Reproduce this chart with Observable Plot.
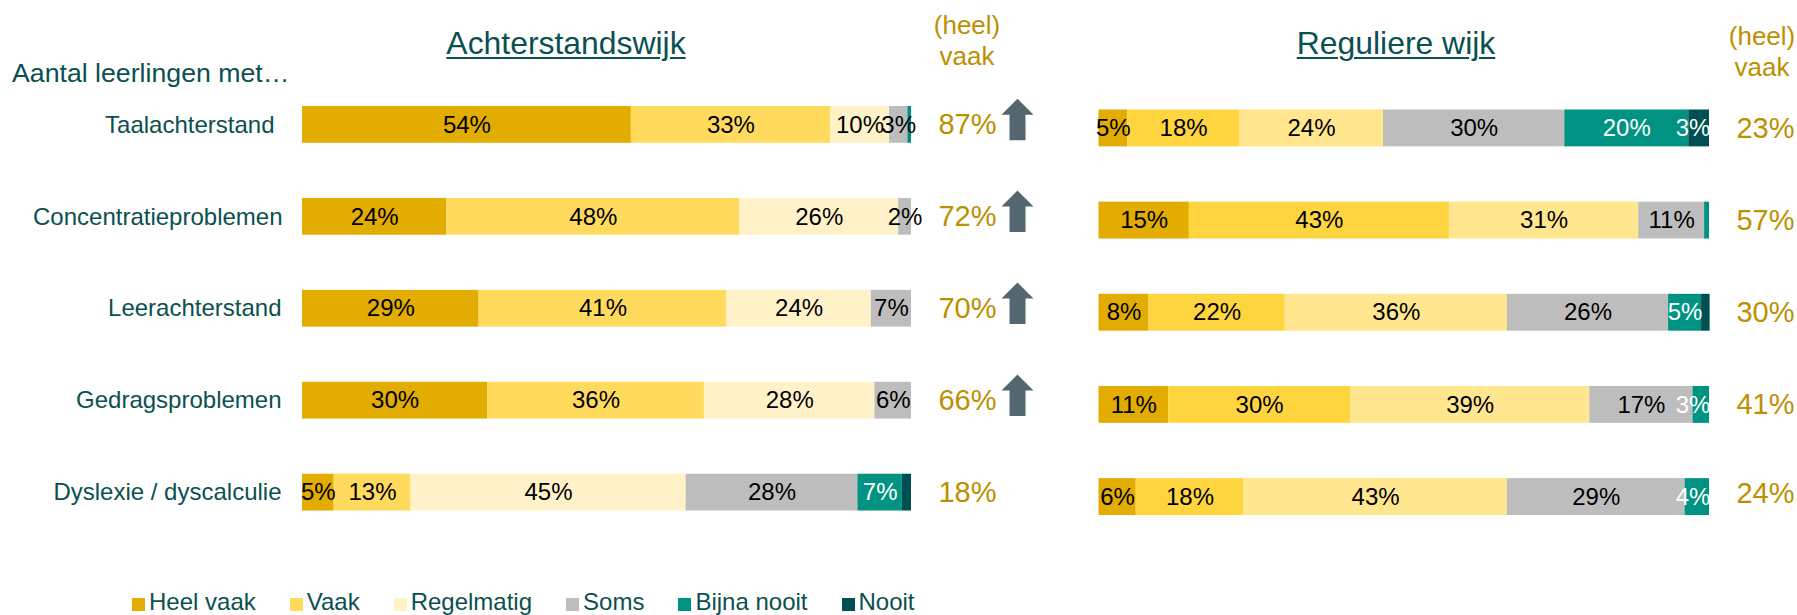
<!DOCTYPE html>
<html lang="nl">
<head>
<meta charset="utf-8">
<script src="https://cdn.jsdelivr.net/npm/d3@7"></script>
<script src="https://cdn.jsdelivr.net/npm/@observablehq/plot@0.6"></script>
<style>
  html, body { margin: 0; padding: 0; background: #fff; overflow: hidden; }
  #stage { position: relative; width: 1797px; height: 615px; overflow: hidden; font-family: "Liberation Sans", Arial, sans-serif; color: #0B5050; }
  #stage svg { position: absolute; top: 0; background: transparent; }
  .h { position: absolute; white-space: nowrap; line-height: 1; }
  .title { font-size: 31.9px; text-decoration: underline; text-decoration-thickness: 2px; text-underline-offset: 3px; transform: translateX(-50%); }
  .gold { color: #BC9000; font-size: 26px; transform: translateX(-50%); text-align: center; line-height: 31px; }
  #legend { position: absolute; left: 132px; top: 588px; display: flex; gap: 34px; font-size: 24px; line-height: 27px; white-space: nowrap; }
  #legend span.item { display: flex; align-items: center; }
  #legend i { display: block; width: 13px; height: 13px; margin-right: 4px; margin-top: 5.4px; }
</style>
</head>
<body>
<div id="stage">
  <div class="h" style="left:12px;top:60px;font-size:26.7px">Aantal leerlingen met…</div>
  <div class="h title" style="left:566px;top:28px">Achterstandswijk</div>
  <div class="h title" style="left:1396px;top:28px">Reguliere wijk</div>
  <div class="h gold" style="left:967px;top:10px">(heel)<br>vaak</div>
  <div class="h gold" style="left:1762px;top:21px">(heel)<br>vaak</div>
  <div id="legend"></div>
</div>
<script>
const categories = ["Taalachterstand", "Concentratieproblemen", "Leerachterstand", "Gedragsproblemen", "Dyslexie / dyscalculie"];
const levels = ["Heel vaak", "Vaak", "Regelmatig", "Soms", "Bijna nooit", "Nooit"];

// Achterstandswijk
const achterHeelVaak   = [54.0, 23.7, 29.0, 30.4, 5.2];
const achterVaak       = [32.7, 48.1, 40.7, 35.6, 12.6];
const achterRegelmatig = [9.7, 26.1, 23.7, 28.0, 45.2];
const achterSoms       = [3.0, 2.1, 6.6, 6.0, 28.2];
const achterBijnaNooit = [0.6, 0, 0, 0, 7.3];
const achterNooit      = [0, 0, 0, 0, 1.5];
const achterTotaal     = ["87%", "72%", "70%", "66%", "18%"];
const achterPijl       = ["Taalachterstand", "Concentratieproblemen", "Leerachterstand", "Gedragsproblemen"];

// Reguliere wijk
const regulierHeelVaak   = [4.7, 14.8, 8.2, 11.4, 6.1];
const regulierVaak       = [18.3, 42.6, 22.3, 29.8, 17.6];
const regulierRegelmatig = [23.6, 31.0, 36.4, 39.2, 43.2];
const regulierSoms       = [29.7, 10.8, 26.4, 16.9, 29.1];
const regulierBijnaNooit = [20.3, 0.8, 5.4, 2.7, 4.0];
const regulierNooit      = [3.4, 0, 1.4, 0, 0];
const regulierTotaal     = ["23%", "57%", "30%", "41%", "24%"];

const paletteAchter   = ["#E2AC00", "#FFDA5C", "#FFF2C8", "#BDBDBD", "#009383", "#004F52"];
const paletteRegulier = ["#E2AC00", "#FFD53F", "#FFE68F", "#BDBDBD", "#009383", "#004F52"];

const font = "'Liberation Sans', Arial, sans-serif";
const TEAL = "#0B5050", GOLD = "#BC9000", ARROW = "#54666F";

function toRows(series, maxMid) {
  const rows = [];
  categories.forEach((cat, i) => {
    let sum = 0;
    series.forEach((vals, s) => {
      const value = vals[i];
      if (value > 0) {
        rows.push({cat, level: levels[s], value, mid: Math.min(sum + value / 2, maxMid), pct: Math.round(value)});
        sum += value;
      }
    });
  });
  return rows;
}

function panel({rows, palette, range, yRange, left, width, totals, totalDx, lastDy}) {
  const totalRows = categories.map((cat, i) => ({cat, text: totals[i]}));
  const marks = [
    Plot.barX(rows, {x: "value", y: "cat", fill: "level", order: levels}),
    Plot.text(rows.filter(d => d.value >= 2), {
      x: "mid", y: "cat", text: d => d.pct + "%", fontSize: 24,
      fill: d => (d.level === "Bijna nooit" || d.level === "Nooit") ? "#FFFFFF" : "#000000"
    }),
    Plot.text(totalRows.slice(0, 4), {x: () => 100, y: "cat", text: "text", dx: totalDx, fontSize: 29, fill: GOLD}),
    Plot.text(totalRows.slice(4), {x: () => 100, y: "cat", text: "text", dx: totalDx, dy: lastDy, fontSize: 29, fill: GOLD})
  ];
  return {
    width, height: 615, style: {left: left + "px", fontFamily: font, overflow: "visible"},
    x: {domain: [0, 100], range, axis: null},
    y: {domain: categories, range: yRange, paddingInner: 0.6, paddingOuter: 0, round: false, axis: null},
    color: {domain: levels, range: palette},
    marks
  };
}

const blockArrow = {
  draw(context, l, r) {
    const head = 16, shaft = r / 2;
    context.moveTo(-shaft, 0);
    context.lineTo(-shaft, -l + head);
    context.lineTo(-r, -l + head);
    context.lineTo(0, -l);
    context.lineTo(r, -l + head);
    context.lineTo(shaft, -l + head);
    context.lineTo(shaft, 0);
    context.closePath();
  }
};

// left panel
const leftOpts = panel({
  rows: toRows([achterHeelVaak, achterVaak, achterRegelmatig, achterSoms, achterBijnaNooit, achterNooit], 200),
  palette: paletteAchter, range: [302, 911], yRange: [106, 510.5], left: 0, width: 1060,
  totals: achterTotaal, totalDx: 56, lastDy: 0
});
leftOpts.marks.push(
  Plot.text(categories.slice(0, 1), {x: () => 0, y: d => d, text: d => d, textAnchor: "end", dx: -28, fontSize: 24, fill: TEAL}),
  Plot.text(categories.slice(1, 2), {x: () => 0, y: d => d, text: d => d, textAnchor: "end", dx: -20, fontSize: 24, fill: TEAL}),
  Plot.text(categories.slice(2), {x: () => 0, y: d => d, text: d => d, textAnchor: "end", dx: -21, fontSize: 24, fill: TEAL}),
  Plot.vector(achterPijl, {
    x: () => 100, y: d => d, dx: 106, dy: -5.5, length: 41.5, r: 16, anchor: "middle",
    shape: blockArrow, fill: ARROW, stroke: "none"
  })
);

// right panel
const rightOpts = panel({
  rows: toRows([regulierHeelVaak, regulierVaak, regulierRegelmatig, regulierSoms, regulierBijnaNooit, regulierNooit], 97.3),
  palette: paletteRegulier, range: [98.5, 709], yRange: [109.5, 515], left: 1000, width: 797,
  totals: regulierTotaal, totalDx: 56, lastDy: -3
});

const stage = document.getElementById("stage");
stage.append(Plot.plot(leftOpts), Plot.plot(rightOpts));

const legend = document.getElementById("legend");
levels.forEach((lv, i) => {
  const item = document.createElement("span");
  item.className = "item";
  const sw = document.createElement("i");
  sw.style.background = paletteAchter[i];
  item.append(sw, document.createTextNode(lv));
  legend.append(item);
});
</script>
</body>
</html>
